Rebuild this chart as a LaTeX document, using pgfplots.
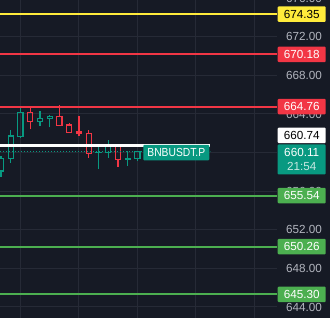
\documentclass[border=0pt]{standalone}
\usepackage{fontspec}
\setmainfont{Liberation Sans}
\usepackage{graphicx}
\usepackage{pgfplots}
\pgfplotsset{compat=1.18}
\definecolor{bg}{RGB}{22,26,37}
\definecolor{gridc}{RGB}{38,42,54}
\definecolor{tgray}{RGB}{178,181,190}
\definecolor{cteal}{RGB}{8,153,129}
\definecolor{cred}{RGB}{242,54,69}
\definecolor{cgreen}{RGB}{76,175,80}
\definecolor{cyellow}{RGB}{255,235,59}
\definecolor{tlight}{RGB}{200,232,226}
\newcommand{\lbl}{\fontsize{11.7bp}{14bp}\selectfont}
\pgfplotsset{
  gc/.style={cteal, line width=1.1bp, solid, mark=none},
  rc/.style={cred, line width=1.1bp, solid, mark=none},
}
\begin{document}
\begin{tikzpicture}
\fill[bg] (0,0) rectangle (330bp,318bp);
\begin{scope}
\clip (0,0) rectangle (330bp,318bp);
\begin{axis}[
  at={(0,0)}, anchor=south west, scale only axis,
  width=277bp, height=318bp,
  xmin=0.9, xmax=29.31, ymin=642.86, ymax=675.81,
  axis line style={draw=none}, major tick length=0pt,
  xtick={3,9,15,21,27}, xticklabels={},
  ytick={644,648,...,672}, yticklabel pos=right,
  yticklabel style={font=\lbl, text=tgray, anchor=west, inner sep=0pt, xshift=9bp},
  /pgf/number format/fixed, /pgf/number format/fixed zerofill,
  /pgf/number format/precision=2, /pgf/number format/1000 sep={},
  /pgf/number format/assume math mode=true,
  grid=major, major grid style={gridc, line width=1bp},
  unbounded coords=jump,
]
% ---- candle wicks (low..body, body..high)
\addplot[gc] coordinates {
 (1,657.50) (1,658.09) (1,nan) (1,659.40) (1,659.60) (1,nan)
 (2,658.92) (2,659.37) (2,nan) (2,661.72) (2,662.34) (2,nan)
 (3,661.60) (3,661.65) (3,nan) (3,664.18) (3,664.59) (3,nan)
 (5,662.79) (5,663.20) (5,nan) (5,663.55) (5,664.31) (5,nan)
 (6,662.62) (6,663.51) (6,nan) (6,663.76) (6,663.90) (6,nan)
 (11,658.30) (11,659.98) (11,nan) (11,660.03) (11,660.86) (11,nan)
 (12,659.47) (12,660.03) (12,nan) (12,660.79) (12,661.31) (12,nan)
 (14,658.64) (14,659.26) (14,nan) (14,659.41) (14,660.17) (14,nan)
 (15,659.16) (15,659.37) (15,nan) (15,660.11) (15,660.17)
};
\addplot[rc] coordinates {
 (4,662.41) (4,663.20) (4,nan) (4,664.18) (4,664.62) (4,nan)
 (7,663.76) (7,664.93) (7,nan)
 (8,662.86) (8,663.10) (8,nan)
 (9,661.75) (9,661.96) (9,nan) (9,662.13) (9,663.79) (9,nan)
 (10,659.47) (10,659.93) (10,nan) (10,662.00) (10,662.34) (10,nan)
 (13,658.54) (13,659.26) (13,nan) (13,660.86) (13,660.90)
};
% ---- candle bodies (hollow), open/close
\addplot[gc] coordinates {(0.74,658.09) (1.26,658.09) (1.26,659.40) (0.74,659.40)} --cycle;
\addplot[gc] coordinates {(1.74,659.37) (2.26,659.37) (2.26,661.72) (1.74,661.72)} --cycle;
\addplot[gc] coordinates {(2.74,661.65) (3.26,661.65) (3.26,664.18) (2.74,664.18)} --cycle;
\addplot[rc] coordinates {(3.74,663.20) (4.26,663.20) (4.26,664.18) (3.74,664.18)} --cycle;
\addplot[gc] coordinates {(4.74,663.20) (5.26,663.20) (5.26,663.55) (4.74,663.55)} --cycle;
\addplot[gc] coordinates {(5.74,663.51) (6.26,663.51) (6.26,663.76) (5.74,663.76)} --cycle;
\addplot[rc] coordinates {(6.74,662.83) (7.26,662.83) (7.26,663.76) (6.74,663.76)} --cycle;
\addplot[rc] coordinates {(7.74,662.06) (8.26,662.06) (8.26,662.86) (7.74,662.86)} --cycle;
\addplot[rc] coordinates {(8.74,661.96) (9.26,661.96) (9.26,662.13) (8.74,662.13)} --cycle;
\addplot[rc] coordinates {(9.74,659.93) (10.26,659.93) (10.26,662.00) (9.74,662.00)} --cycle;
\addplot[gc] coordinates {(10.74,659.98) (11.26,659.98) (11.26,660.03) (10.74,660.03)} --cycle;
\addplot[gc] coordinates {(11.74,660.03) (12.26,660.03) (12.26,660.79) (11.74,660.79)} --cycle;
\addplot[rc] coordinates {(12.74,659.26) (13.26,659.26) (13.26,660.86) (12.74,660.86)} --cycle;
\addplot[gc] coordinates {(13.74,659.26) (14.26,659.26) (14.26,659.41) (13.74,659.41)} --cycle;
\addplot[gc] coordinates {(14.74,659.37) (15.26,659.37) (15.26,660.11) (14.74,660.11)} --cycle;
% ---- horizontal levels
\addplot[cyellow, line width=2bp] coordinates {(0.9,674.35) (29.31,674.35)};
\addplot[cred, line width=2bp] coordinates {(0.9,670.18) (29.31,670.18)};
\addplot[cred, line width=2bp] coordinates {(0.9,664.76) (29.31,664.76)};
\addplot[cgreen, line width=2bp] coordinates {(0.9,655.54) (29.31,655.54)};
\addplot[cgreen, line width=2bp] coordinates {(0.9,650.26) (29.31,650.26)};
\addplot[cgreen, line width=2bp] coordinates {(0.9,645.30) (29.31,645.30)};
\addplot[white, line width=2.3bp] coordinates {(0.9,660.74) (22.44,660.74)};
\addplot[cteal, line width=1.2bp, dash pattern=on 1.2bp off 1.8bp] coordinates {(0.9,660.11) (22.44,660.11)};
% anchor points for price labels
\coordinate (p676) at (axis cs:29.31,676.00);
\coordinate (p674) at (axis cs:29.31,674.35);
\coordinate (p670) at (axis cs:29.31,670.18);
\coordinate (p664) at (axis cs:29.31,664.76);
\coordinate (pwhite) at (axis cs:29.31,661.79);
\coordinate (plast) at (axis cs:29.31,660.86);
\coordinate (psym) at (axis cs:22.44,660.00);
\coordinate (p655) at (axis cs:29.31,655.54);
\coordinate (p650) at (axis cs:29.31,650.26);
\coordinate (p645) at (axis cs:29.31,645.30);
\end{axis}
\node[anchor=west, inner sep=0pt, xshift=9bp, font=\lbl, text=tgray] at (p676) {676.00};
\tikzset{pl/.style={anchor=west, xshift=0.5bp, minimum width=48bp, minimum height=15.5bp, inner sep=0pt, font=\lbl, rounded corners=1bp}}
\node[pl, fill=cyellow, text=black] at (p674) {674.35};
\node[pl, fill=cred, text=white] at (p670) {670.18};
\node[pl, fill=cred, text=white] at (p664) {664.76};
\node[pl, fill=white, text=black, minimum height=15.5bp] at (pwhite) {660.74};
\node[pl, anchor=north west, fill=cteal, text=white, minimum height=30bp, align=center] at (plast) {660.11\\\textcolor{tlight}{21:54}};
\node[anchor=east, xshift=-0.5bp, minimum width=66bp, minimum height=15.5bp, inner sep=0pt, font=\lbl, fill=cteal, text=white, rounded corners=1bp] at (psym) {\scalebox{0.88}[1]{BNBUSDT.P}};
\node[pl, fill=cgreen, text=white] at (p655) {655.54};
\node[pl, fill=cgreen, text=white] at (p650) {650.26};
\node[pl, fill=cgreen, text=white] at (p645) {645.30};
\end{scope}
\pgfresetboundingbox
\useasboundingbox (0,0) rectangle (330bp,318bp);
\end{tikzpicture}
\end{document}
